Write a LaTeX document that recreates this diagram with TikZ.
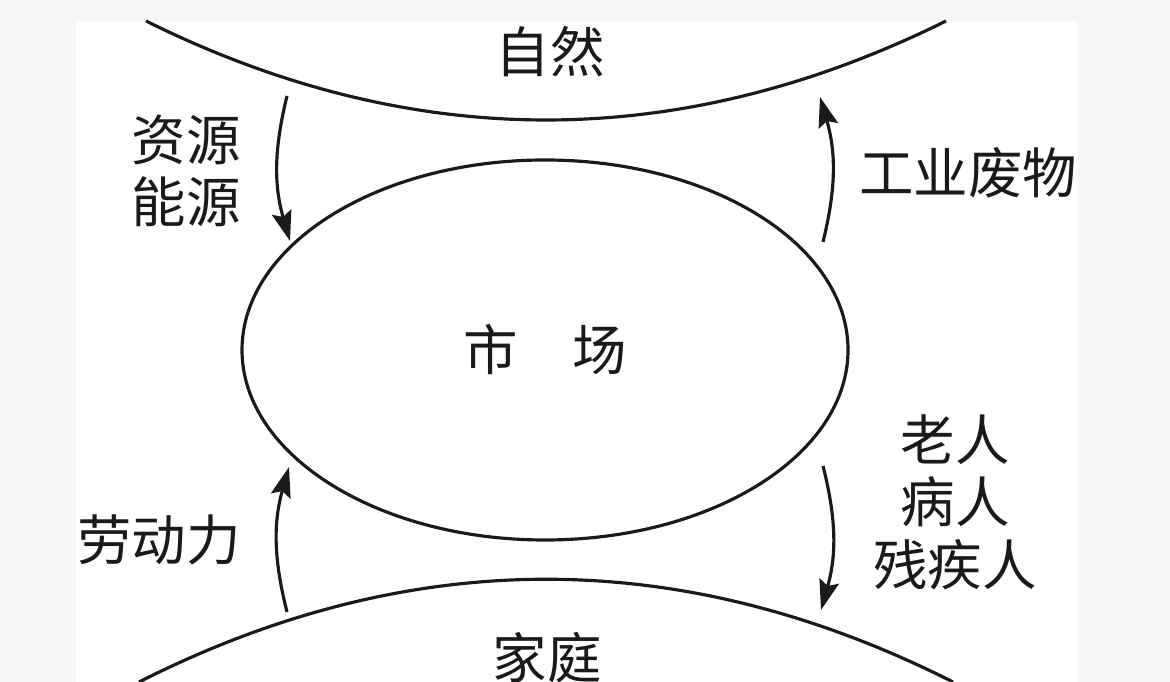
\documentclass[tikz,border=0pt]{standalone}
\usepackage{fontspec}
\newfontfamily\cjk{Noto Sans CJK SC}
\usetikzlibrary{shapes.geometric,arrows.meta}
\definecolor{pagegray}{HTML}{F5F6F8}
\definecolor{ink}{HTML}{1A1A1A}

\begin{document}
\begin{tikzpicture}[
  cjktext/.style={font=\cjk\fontsize{15.5pt}{17.8pt}\selectfont, text=ink, align=center, inner sep=0pt},
  rim/.style={draw=ink, line width=0.9pt},
  flow/.style={-{Stealth[length=3mm,width=2mm,inset=0.5mm]}, draw=ink, line width=0.9pt}
]

% Page
\useasboundingbox (0,0) rectangle (11.70,6.82);
\fill[pagegray] (0,0) rectangle (11.70,6.82);
\fill[white] (0.76,0) rectangle (10.78,6.61);

% Nature (top) and family (bottom)
\draw[rim] (1.46,6.61) .. controls (4.12,5.29) and (6.80,5.29) .. (9.46,6.61);
\draw[rim] (1.39,0) .. controls (4.10,1.37) and (6.82,1.37) .. (9.53,0);
\node[cjktext] (nature) at (5.50,6.30) {自然};
\node[cjktext] (family) at (5.47,0.24) {家庭};

% Market
\node[ellipse, rim, cjktext, minimum width=6.06cm, minimum height=3.80cm] (market) at (5.45,3.32) {市\hspace{1em}场};

% Flow ends
\coordinate (res-from) at (2.87,5.86);
\coordinate (res-to) at (2.90,4.41);
\coordinate (waste-from) at (8.23,4.40);
\coordinate (waste-to) at (8.20,5.85);
\coordinate (labor-from) at (2.87,0.70);
\coordinate (labor-to) at (2.89,2.15);
\coordinate (care-from) at (8.23,2.16);
\coordinate (care-to) at (8.21,0.72);

% Flows
\draw[flow] (res-from) to[bend right=15] (res-to);
\draw[flow] (waste-from) to[bend right=15] (waste-to);
\draw[flow] (labor-from) to[bend left=15] (labor-to);
\draw[flow] (care-from) to[bend left=15] (care-to);

% Flow labels
\node[cjktext] (resources) at (1.86,5.11) {资源\\能源};
\node[cjktext] (waste) at (9.68,5.09) {工业废物};
\node[cjktext] (labor) at (1.59,1.42) {劳动力};
\node[cjktext] (care) at (9.55,1.80) {老人\\病人\\残疾人};

\end{tikzpicture}
\end{document}
